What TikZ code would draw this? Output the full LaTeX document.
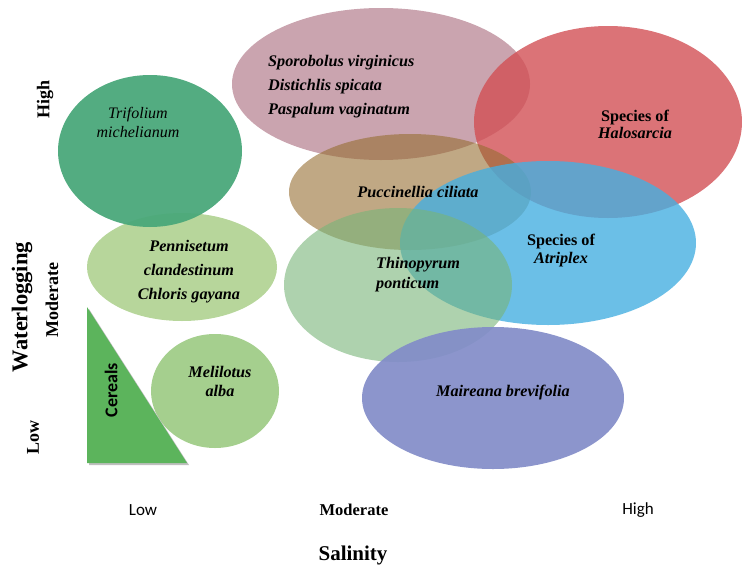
\documentclass[tikz,border=0pt]{standalone}
\usepackage{fontspec}
\setmainfont{Liberation Serif}
\newfontfamily\calibri{Carlito}
\usetikzlibrary{positioning}
\definecolor{cTrifol}{RGB}{74,168,122}
\definecolor{cPenni}{RGB}{183,214,155}
\definecolor{cMelil}{RGB}{165,207,142}
\definecolor{cCereal}{RGB}{92,180,92}
\definecolor{cSporo}{RGB}{196,154,166}
\definecolor{cHalo}{RGB}{210,80,85}
\definecolor{cPucci}{RGB}{150,110,50}
\definecolor{cAtrip}{RGB}{70,175,225}
\definecolor{cThino}{RGB}{120,180,120}
\definecolor{cMaire}{RGB}{130,140,200}

\begin{document}
\begin{tikzpicture}[x=1pt,y=-1pt,
    species/.style={
      font=\fontsize{16.2}{24}\selectfont\bfseries\itshape,
      align=center,
      inner sep=0pt,
    },
    axis/.style={
      font=\fontsize{18}{20}\selectfont\bfseries,
      inner sep=0pt,
    },
    tick/.style={
      font=\calibri\fontsize{17}{20}\selectfont,
      inner sep=0pt,
    },
  ]
  \useasboundingbox (0,0) rectangle (742,576);

  % zones
  \fill[cSporo,fill opacity=.9] (381,84) ellipse [x radius=149, y radius=76];
  \fill[cPenni] (182,267) ellipse [x radius=95, y radius=54];
  \fill[cTrifol,fill opacity=.95] (150,151) ellipse [x radius=92, y radius=76];
  \fill[cMelil] (215,391) ellipse [x radius=64, y radius=57];
  \fill[black!25] (89,309) -- (89,465) -- (189,465) -- cycle;
  \fill[cCereal] (87,307) -- (87,463) -- (187,463) -- cycle;
  \fill[cHalo,fill opacity=.8] (608,122) ellipse [x radius=134, y radius=96];
  \fill[cPucci,fill opacity=.6] (410,192) ellipse [x radius=121, y radius=58];
  \fill[cAtrip,fill opacity=.8] (548,243) ellipse [x radius=148, y radius=82];
  \fill[cThino,fill opacity=.6] (398,285) ellipse [x radius=114, y radius=77];
  \fill[cMaire,fill opacity=.92] (493,398) ellipse [x radius=131, y radius=71];

  % species
  \node[species,align=left,anchor=west] (sporo) at (268,87)
    {Sporobolus virginicus\\Distichlis spicata\\Paspalum vaginatum};
  \node[species,font=\fontsize{16}{19}\selectfont\itshape] (trifol) at (138,122)
    {Trifolium\\michelianum};
  \node[species] (penni) at (189,272)
    {Pennisetum\\clandestinum\\Chloris gayana};
  \node[species,font=\fontsize{16.2}{19}\selectfont\bfseries\itshape] (melil) at (220,381)
    {Melilotus\\alba};
  \node[font=\calibri\fontsize{18}{20}\selectfont\bfseries,rotate=90] (cereal) at (111,390) {Cereals};
  \node[species,font=\fontsize{16.2}{17}\selectfont\bfseries] (halo) at (635,124)
    {Species of\\\textit{Halosarcia}};
  \node[species] (pucci) at (418,192) {Puccinellia ciliata};
  \node[species,font=\fontsize{16.2}{20}\selectfont\bfseries\itshape,align=left,anchor=west] (thino) at (376,275)
    {Thinopyrum\\ponticum};
  \node[species,font=\fontsize{16.2}{18}\selectfont\bfseries] (atrip) at (561,251)
    {Species of\\\textit{Atriplex}};
  \node[species] (maire) at (503,393) {Maireana brevifolia};

  % waterlogging axis
  \node[axis,rotate=90] (wHigh) at (45,99) {High};
  \node[axis,rotate=90] (wMod) at (52,300) {Moderate};
  \node[axis,rotate=90] (wLow) at (33,437) {Low};
  \node[axis,font=\fontsize{22.5}{24}\selectfont\bfseries,rotate=90] (water) at (22,307) {Waterlogging};

  % salinity axis
  \node[tick] (sLow) at (143,510) {Low};
  \node[axis,font=\fontsize{16.5}{20}\selectfont\bfseries] (sMod) at (354,510) {Moderate};
  \node[tick] (sHigh) at (638,510) {High};
  \node[axis,font=\fontsize{21}{24}\selectfont\bfseries] (salin) at (353,555) {Salinity};
\end{tikzpicture}
\end{document}
